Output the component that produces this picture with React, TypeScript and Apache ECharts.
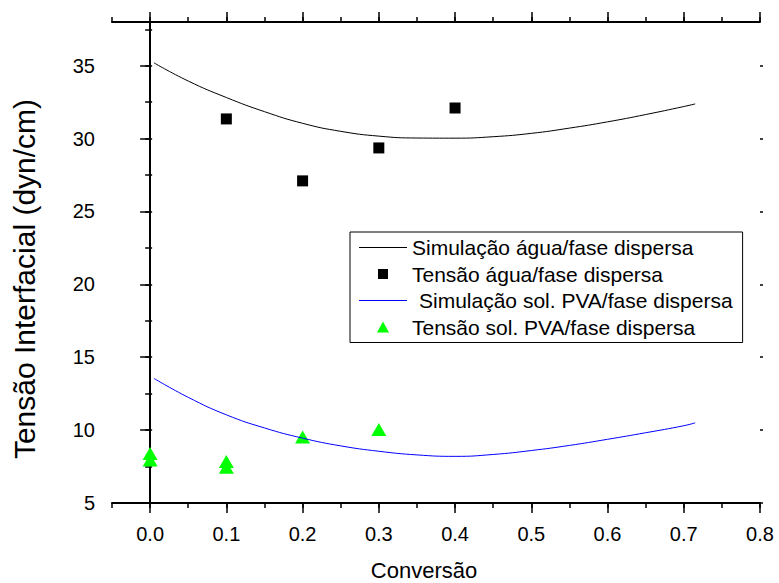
import React, { useEffect, useRef } from "react";
import * as echarts from "echarts";

const simAguaX = [0.005, 0.05, 0.1, 0.15, 0.2, 0.25, 0.3, 0.35, 0.4, 0.45, 0.5, 0.55, 0.6, 0.65, 0.7, 0.715];
const simAguaY = [35.2, 33.95, 32.82, 31.85, 31.05, 30.5, 30.17, 30.04, 30.03, 30.13, 30.36, 30.72, 31.15, 31.65, 32.2, 32.38];
const simPvaY = [13.55, 12.25, 11.05, 10.15, 9.45, 8.92, 8.55, 8.3, 8.2, 8.33, 8.6, 8.95, 9.37, 9.82, 10.3, 10.5];

const tensaoAguaX = [0.1, 0.2, 0.3, 0.4];
const tensaoAguaY = [31.35, 27.1, 29.36, 32.1];

const tensaoPvaX = [0.0, 0.0, 0.1, 0.1, 0.2, 0.3];
const tensaoPvaY = [8.4, 7.95, 7.85, 7.45, 9.52, 10.05];

const seriesNames = [
  "Simulação água/fase dispersa",
  "Tensão água/fase dispersa",
  "Simulação sol. PVA/fase dispersa",
  "Tensão sol. PVA/fase dispersa",
];

const xTitle = "Conversão";
const yTitle = "Tensão Interfacial (dyn/cm)";

const FONT = "'Liberation Sans', Arial, sans-serif";

const LINE_ICON = "path://M0,0h48v1h-48z";
const SQUARE_ICON = "path://M0,0M12,12M1,1h10v10h-10z";
const TRIANGLE_ICON = "path://M0,0M12,12M6,0.5L12,11.5L0,11.5z";

export default function App() {
  const ref = useRef<HTMLDivElement>(null);
  useEffect(() => {
    if (!ref.current) return;
    const chart = echarts.init(ref.current, null, { renderer: "svg" });

    const L = 112, T = 22, W = 648, H = 481;
    const xMin = -0.05, xMax = 0.8, yMin = 5, yMax = 38;
    const x0px = L + (W * (0 - xMin)) / (xMax - xMin);
    const y35px = T + (H * (yMax - 35)) / (yMax - yMin);

    const lineAxis = { show: true, lineStyle: { color: "#000", width: 2 } };
    const tick = (len: number) => ({ show: true, inside: false, length: len, lineStyle: { color: "#000", width: 1.5 } });
    const noSplit = { show: false };

    const zip = (xs: number[], ys: number[]) => xs.map((x, i) => [x, ys[i]]);

    chart.setOption({
      animation: false,
      backgroundColor: "#fff",
      grid: [
        { left: L, top: T, width: W, height: H },
        { left: x0px, top: T, width: L + W - x0px, height: H },
        { left: L, top: y35px, width: W, height: T + H - y35px },
      ],
      xAxis: [
        { gridIndex: 0, type: "value", position: "bottom", min: xMin, max: xMax, interval: 0.05, axisLine: lineAxis, axisTick: tick(5), axisLabel: { show: false }, splitLine: noSplit },
        { gridIndex: 0, type: "value", position: "top", min: xMin, max: xMax, interval: 0.05, axisLine: lineAxis, axisTick: tick(5), axisLabel: { show: false }, splitLine: noSplit },
        {
          gridIndex: 1, type: "value", position: "bottom", min: 0, max: 0.8, interval: 0.1,
          axisLine: { show: false }, axisTick: tick(10), splitLine: noSplit,
          axisLabel: { show: true, margin: 21, color: "#000", fontSize: 20, fontFamily: FONT, formatter: (v: number) => v.toFixed(1) },
        },
        { gridIndex: 1, type: "value", position: "top", min: 0, max: 0.8, interval: 0.1, axisLine: { show: false }, axisTick: tick(10), axisLabel: { show: false }, splitLine: noSplit },
        { gridIndex: 2, type: "value", show: false, min: xMin, max: xMax },
      ],
      yAxis: [
        { gridIndex: 0, type: "value", position: "left", min: yMin, max: yMax, interval: 2.5, axisLine: lineAxis, axisTick: tick(5), axisLabel: { show: false }, splitLine: noSplit },
        { gridIndex: 0, type: "value", position: "right", min: yMin, max: yMax, interval: 2.5, axisLine: lineAxis, axisTick: tick(2), axisLabel: { show: false }, splitLine: noSplit },
        { gridIndex: 1, type: "value", show: false, min: yMin, max: yMax },
        {
          gridIndex: 2, type: "value", position: "left", min: 5, max: 35, interval: 5,
          axisLine: { show: false }, axisTick: tick(10), splitLine: noSplit,
          axisLabel: { show: true, margin: 17, color: "#000", fontSize: 20, fontFamily: FONT },
        },
        { gridIndex: 2, type: "value", position: "right", min: 5, max: 35, interval: 5, axisLine: { show: false }, axisTick: tick(3), axisLabel: { show: false }, splitLine: noSplit },
      ],
      legend: {
        show: true,
        orient: "vertical",
        left: 350,
        top: 232,
        padding: [5, 10, 5, 9],
        itemGap: 5.5,
        itemWidth: 48,
        itemHeight: 12,
        itemTextGap: 6,
        symbolKeepAspect: true,
        borderColor: "#000",
        borderWidth: 1,
        borderRadius: 0,
        backgroundColor: "#fff",
        textStyle: { color: "#000", fontSize: 21, fontFamily: FONT },
        data: [
          { name: seriesNames[0], icon: LINE_ICON },
          { name: seriesNames[1], icon: SQUARE_ICON },
          { name: seriesNames[2], icon: LINE_ICON, textStyle: { padding: [0, 0, 0, 7] } },
          { name: seriesNames[3], icon: TRIANGLE_ICON },
        ],
      },
      graphic: [
        {
          type: "text", x: 424, y: 570,
          style: { text: xTitle, fill: "#000", font: `22px ${FONT}`, textAlign: "center", textVerticalAlign: "middle" },
        },
        {
          type: "text", x: 24, y: 279, rotation: Math.PI / 2,
          style: { text: yTitle, fill: "#000", font: `30px ${FONT}`, textAlign: "center", textVerticalAlign: "middle" },
        },
      ],
      series: [
        {
          name: seriesNames[0], type: "line", xAxisIndex: 0, yAxisIndex: 0,
          data: zip(simAguaX, simAguaY), smooth: 0.5, symbol: "none",
          lineStyle: { color: "#000", width: 1 }, itemStyle: { color: "#000" },
        },
        {
          name: seriesNames[1], type: "scatter", xAxisIndex: 0, yAxisIndex: 0,
          data: zip(tensaoAguaX, tensaoAguaY), symbol: "rect", symbolSize: 11,
          itemStyle: { color: "#000", opacity: 1 },
        },
        {
          name: seriesNames[2], type: "line", xAxisIndex: 0, yAxisIndex: 0,
          data: zip(simAguaX, simPvaY), smooth: 0.5, symbol: "none",
          lineStyle: { color: "#0000ff", width: 1 }, itemStyle: { color: "#0000ff" },
        },
        {
          name: seriesNames[3], type: "scatter", xAxisIndex: 0, yAxisIndex: 0,
          data: zip(tensaoPvaX, tensaoPvaY), symbol: "triangle", symbolSize: [15, 13],
          itemStyle: { color: "#00ff00", opacity: 1 },
        },
      ],
    });
    return () => chart.dispose();
  }, []);
  return <div ref={ref} style={{ width: 779, height: 583, position: "absolute", left: 0, top: 0 }} />;
}
